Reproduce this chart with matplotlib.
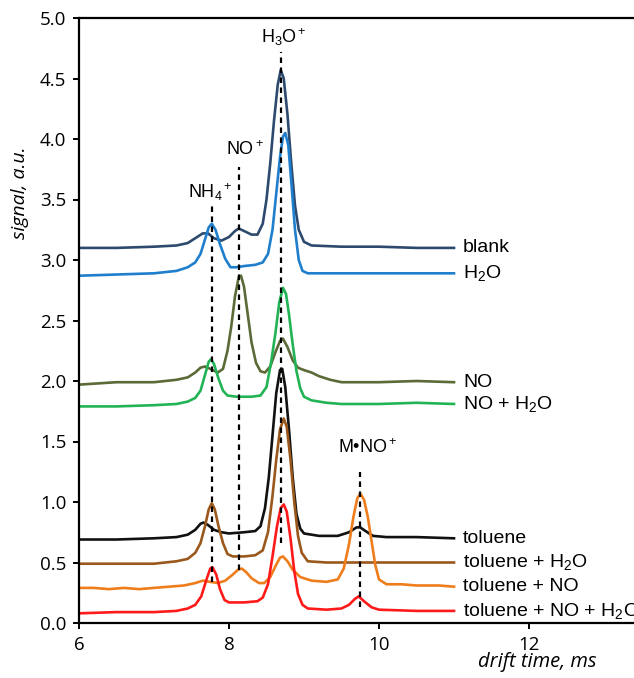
import matplotlib
matplotlib.use('Agg')
import matplotlib.pyplot as plt

# drift-time spectra (x in ms, y in a.u.)
blank_x = [6.0, 6.5, 7.0, 7.3, 7.45, 7.55, 7.65, 7.72, 7.8, 7.9, 8.0, 8.08, 8.13, 8.2, 8.3, 8.38,
           8.45, 8.5, 8.55, 8.6, 8.65, 8.69, 8.73, 8.78, 8.83, 8.88, 8.93, 9.0, 9.1, 9.5, 10.0, 10.5, 11.0]
blank_y = [3.10, 3.10, 3.11, 3.12, 3.14, 3.18, 3.22, 3.22, 3.18, 3.16, 3.19, 3.24, 3.26, 3.24, 3.21, 3.21,
           3.30, 3.50, 3.80, 4.15, 4.45, 4.57, 4.50, 4.20, 3.80, 3.45, 3.25, 3.15, 3.12, 3.11, 3.11, 3.10, 3.10]

h2o_x = [6.0, 6.5, 7.0, 7.3, 7.45, 7.55, 7.62, 7.68, 7.73, 7.77, 7.82, 7.88, 7.95, 8.02, 8.1, 8.2, 8.35,
         8.45, 8.52, 8.58, 8.63, 8.68, 8.72, 8.75, 8.79, 8.83, 8.88, 8.93, 8.98, 9.05, 9.5, 10.0, 10.5, 11.0]
h2o_y = [2.87, 2.88, 2.89, 2.91, 2.94, 2.98, 3.05, 3.17, 3.27, 3.30, 3.25, 3.13, 3.01, 2.94, 2.94, 2.95, 2.96,
         2.98, 3.05, 3.25, 3.55, 3.85, 4.02, 4.05, 3.95, 3.65, 3.25, 3.00, 2.91, 2.89, 2.89, 2.89, 2.89, 2.89]

no_x = [6.0, 6.5, 7.0, 7.3, 7.45, 7.55, 7.62, 7.68, 7.75, 7.85, 7.92, 7.98, 8.03, 8.08, 8.13, 8.16, 8.2,
        8.25, 8.3, 8.36, 8.42, 8.48, 8.55, 8.62, 8.68, 8.72, 8.78, 8.85, 8.92, 9.0, 9.1, 9.2, 9.35, 9.5,
        10.0, 10.5, 11.0]
no_y = [1.97, 1.99, 1.99, 2.01, 2.03, 2.07, 2.11, 2.12, 2.10, 2.07, 2.10, 2.25, 2.45, 2.70, 2.86, 2.87, 2.78,
        2.55, 2.32, 2.15, 2.08, 2.07, 2.12, 2.24, 2.33, 2.35, 2.28, 2.17, 2.11, 2.09, 2.07, 2.04, 2.01, 1.99,
        1.99, 2.00, 1.99]

no_h2o_x = [6.0, 6.5, 7.0, 7.3, 7.45, 7.55, 7.62, 7.68, 7.73, 7.76, 7.8, 7.86, 7.92, 7.98, 8.1, 8.3, 8.42,
            8.5, 8.56, 8.62, 8.67, 8.72, 8.76, 8.8, 8.85, 8.9, 8.95, 9.0, 9.1, 9.3, 9.5, 10.0, 10.5, 11.0]
no_h2o_y = [1.79, 1.79, 1.80, 1.81, 1.83, 1.86, 1.92, 2.05, 2.16, 2.18, 2.14, 2.02, 1.92, 1.88, 1.87, 1.87, 1.88,
            1.95, 2.15, 2.40, 2.65, 2.77, 2.72, 2.55, 2.30, 2.08, 1.94, 1.87, 1.84, 1.82, 1.81, 1.81, 1.82, 1.81]

tol_x = [6.0, 6.5, 7.0, 7.3, 7.45, 7.55, 7.62, 7.66, 7.72, 7.8, 7.9, 8.0, 8.2, 8.35, 8.42, 8.48, 8.53, 8.58,
         8.63, 8.68, 8.71, 8.75, 8.8, 8.85, 8.9, 8.95, 9.0, 9.2, 9.45, 9.6, 9.7, 9.75, 9.82, 9.92, 10.1,
         10.5, 11.0]
tol_y = [0.69, 0.69, 0.70, 0.71, 0.73, 0.77, 0.82, 0.83, 0.81, 0.77, 0.75, 0.74, 0.75, 0.76, 0.80, 0.95, 1.20, 1.55,
         1.90, 2.09, 2.10, 1.95, 1.60, 1.20, 0.90, 0.78, 0.74, 0.72, 0.72, 0.75, 0.79, 0.79, 0.76, 0.72, 0.71,
         0.71, 0.70]

tol_h2o_x = [6.0, 6.5, 7.0, 7.3, 7.45, 7.55, 7.62, 7.68, 7.73, 7.77, 7.81, 7.86, 7.92, 7.98, 8.05, 8.2, 8.35,
             8.45, 8.52, 8.58, 8.63, 8.68, 8.73, 8.77, 8.82, 8.87, 8.92, 8.97, 9.05, 9.3, 10.0, 10.5, 11.0]
tol_h2o_y = [0.49, 0.49, 0.49, 0.51, 0.53, 0.58, 0.66, 0.80, 0.94, 0.99, 0.94, 0.80, 0.66, 0.57, 0.55, 0.55, 0.56,
             0.60, 0.75, 1.05, 1.35, 1.60, 1.69, 1.62, 1.35, 1.00, 0.72, 0.58, 0.51, 0.50, 0.50, 0.50, 0.50]

tol_no_x = [6.0, 6.2, 6.4, 6.6, 6.8, 7.0, 7.2, 7.4, 7.55, 7.65, 7.75, 7.85, 7.95, 8.05, 8.12, 8.17, 8.23,
            8.3, 8.4, 8.47, 8.55, 8.62, 8.68, 8.72, 8.78, 8.85, 8.95, 9.1, 9.3, 9.45, 9.53, 9.6, 9.66, 9.71,
            9.75, 9.8, 9.85, 9.9, 9.95, 10.0, 10.1, 10.3, 10.5, 10.8, 11.0]
tol_no_y = [0.29, 0.29, 0.28, 0.29, 0.28, 0.29, 0.30, 0.31, 0.33, 0.35, 0.34, 0.33, 0.35, 0.40, 0.44, 0.45, 0.42,
            0.37, 0.33, 0.33, 0.38, 0.47, 0.54, 0.55, 0.51, 0.44, 0.38, 0.35, 0.34, 0.36, 0.45, 0.65, 0.88, 1.03,
            1.07, 1.02, 0.88, 0.68, 0.48, 0.36, 0.32, 0.32, 0.31, 0.31, 0.30]

tol_no_h2o_x = [6.0, 6.5, 7.0, 7.3, 7.45, 7.55, 7.63, 7.7, 7.75, 7.78, 7.83, 7.88, 7.94, 8.0, 8.2, 8.38, 8.45,
                8.52, 8.58, 8.64, 8.69, 8.73, 8.77, 8.82, 8.87, 8.92, 8.98, 9.05, 9.3, 9.5, 9.6, 9.68, 9.73,
                9.8, 9.9, 10.0, 10.5, 11.0]
tol_no_h2o_y = [0.08, 0.09, 0.09, 0.10, 0.12, 0.15, 0.22, 0.36, 0.45, 0.46, 0.40, 0.28, 0.19, 0.17, 0.17, 0.18, 0.21,
                0.32, 0.55, 0.80, 0.95, 0.98, 0.92, 0.70, 0.43, 0.24, 0.15, 0.12, 0.11, 0.12, 0.15, 0.20, 0.22,
                0.18, 0.13, 0.11, 0.10, 0.10]

series = [
    ('blank', blank_x, blank_y, '#2d4a6e'),
    ('H$_2$O', h2o_x, h2o_y, '#1f7fcd'),
    ('NO', no_x, no_y, '#5b6a37'),
    ('NO + H$_2$O', no_h2o_x, no_h2o_y, '#22b355'),
    ('toluene', tol_x, tol_y, '#111111'),
    ('toluene + H$_2$O', tol_h2o_x, tol_h2o_y, '#9a581c'),
    ('toluene + NO', tol_no_x, tol_no_y, '#ef7d1b'),
    ('toluene + NO + H$_2$O', tol_no_h2o_x, tol_no_h2o_y, '#ff1a1a'),
]

# ion markers: label, drift time, dashed line from/to, label height, label x
ions = [
    ('NH$_4$$^+$', 7.77, 0.34, 3.48, 3.56, 7.75),
    ('NO$^+$', 8.13, 0.44, 3.77, 3.91, 8.21),
    ('H$_3$O$^+$', 8.69, 0.66, 4.72, 4.84, 8.73),
    ('M\u2022NO$^+$', 9.75, 0.13, 1.25, 1.45, 9.85),
]

plt.rcParams['font.family'] = ['Liberation Sans', 'DejaVu Sans']
plt.rcParams['mathtext.fontset'] = 'custom'
plt.rcParams['mathtext.rm'] = 'Liberation Sans'
plt.rcParams['mathtext.it'] = 'Liberation Sans:italic'

fig = plt.figure(figsize=(6.34, 6.78), dpi=100)
ax = fig.add_axes([79 / 634, 55 / 678, 1 - 79 / 634, 605 / 678])

for name, xs, ys, col in series:
    ax.plot(xs, ys, color=col, lw=1.9, solid_joinstyle='round')
    ax.text(11.12, ys[-1], name, fontsize=14, va='center', ha='left')

for lab, xpos, y0, y1, ylab, xlab in ions:
    ax.plot([xpos, xpos], [y0, y1], color='black', lw=1.6, linestyle=(0, (2.5, 2)))
    ax.text(xlab, ylab, lab, fontsize=13, ha='center', va='center')

ax.set_xlim(6, 13.4)
ax.set_ylim(0, 5.0)
ax.set_xticks([6, 8, 10, 12])
ax.set_yticks([0, 0.5, 1.0, 1.5, 2.0, 2.5, 3.0, 3.5, 4.0, 4.5, 5.0])
ax.set_yticklabels(['%.1f' % v for v in ax.get_yticks()])
ax.spines['right'].set_visible(False)
for s in ['left', 'top', 'bottom']:
    ax.spines[s].set_linewidth(1.6)
ax.tick_params(width=1.4, length=4, labelsize=13.5, pad=5)
for lbl in ax.get_xticklabels() + ax.get_yticklabels():
    lbl.set_family('Open Sans')

fig.text(20 / 634, 1 - 193 / 678, 'signal, a.u.', rotation=90, ha='center', va='center',
         fontsize=14, style='italic', family='Open Sans')
fig.text(537 / 634, 1 - 662 / 678, 'drift time, ms', ha='center', va='center',
         fontsize=14.5, style='italic', family='Open Sans')

fig.savefig('out.png', dpi=100)
